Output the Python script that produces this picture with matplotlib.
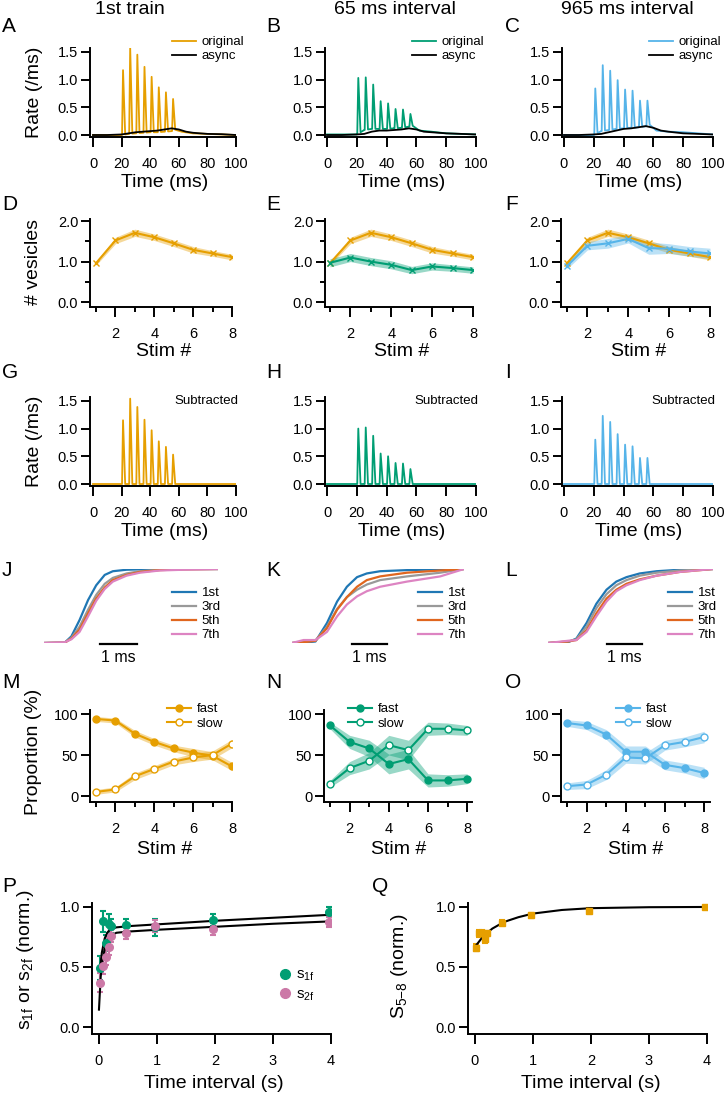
import numpy as np
import matplotlib
matplotlib.use("Agg")
import matplotlib.pyplot as plt
from matplotlib.lines import Line2D

W, H = 725, 1097
plt.rcParams['font.family'] = ['Liberation Sans', 'DejaVu Sans']
plt.rcParams['mathtext.fontset'] = 'custom'
plt.rcParams['mathtext.rm'] = 'Liberation Sans'
plt.rcParams['mathtext.it'] = 'Liberation Sans:italic'

YELLOW = '#e69f00'
GREEN = '#009e73'
SKY = '#56b4e9'
PINK = '#cc79a7'
CUM_COLORS = ['#1f77b4', '#999999', '#e0661e', '#dd84c2']

# ---------------- data ----------------
# A-C / G-I : release rate traces (ms)
stim_times = [21, 26, 31, 36, 41, 46, 51, 56]
peaks_first = [1.17, 1.58, 1.45, 1.23, 1.05, 0.86, 0.77, 0.65]
peaks_65 = [1.03, 1.04, 0.91, 0.61, 0.57, 0.47, 0.46, 0.38]
peaks_965 = [0.84, 1.26, 1.16, 0.99, 0.82, 0.80, 0.62, 0.62]

floor_t = [0, 20, 25, 30, 35, 40, 45, 50, 55, 58, 62, 70, 80, 90, 100]
floor_first = [0, 0, 0.02, 0.03, 0.04, 0.05, 0.05, 0.06, 0.07, 0.10, 0.06, 0.03, 0.02, 0.01, 0]
floor_65 = [0.01, 0.01, 0.09, 0.11, 0.11, 0.11, 0.12, 0.13, 0.15, 0.17, 0.08, 0.06, 0.03, 0.02, 0.01]
floor_965 = [0, 0, 0.07, 0.09, 0.11, 0.12, 0.13, 0.14, 0.16, 0.19, 0.08, 0.06, 0.05, 0.03, 0.01]

async_t = [0, 10, 20, 25, 30, 35, 40, 45, 50, 55, 60, 65, 70, 80, 90, 100]
async_first = [0, 0, 0.01, 0.03, 0.05, 0.06, 0.07, 0.08, 0.10, 0.12, 0.10, 0.06, 0.04, 0.02, 0.015, 0]
async_65 = [0, 0, 0.01, 0.02, 0.06, 0.08, 0.08, 0.09, 0.10, 0.12, 0.10, 0.06, 0.05, 0.03, 0.02, 0.01]
async_965 = [0, 0, 0.01, 0.02, 0.05, 0.08, 0.11, 0.12, 0.14, 0.16, 0.13, 0.08, 0.06, 0.03, 0.02, 0.01]

sub_floor = [0] * len(floor_t)
sub_first = [1.15, 1.54, 1.39, 1.16, 0.97, 0.77, 0.67, 0.53]
sub_65 = [1.00, 1.02, 0.87, 0.55, 0.50, 0.38, 0.37, 0.27]
sub_965 = [0.80, 1.23, 1.12, 0.90, 0.71, 0.68, 0.47, 0.47]

# D-F : number of vesicles per stimulus
stim_n = [1, 2, 3, 4, 5, 6, 7, 8]
ves_first = [0.96, 1.52, 1.71, 1.60, 1.45, 1.29, 1.20, 1.11]
ves_first_err = [0.05, 0.08, 0.09, 0.08, 0.08, 0.08, 0.07, 0.07]
ves_65 = [0.97, 1.10, 1.00, 0.92, 0.79, 0.88, 0.84, 0.79]
ves_65_err = [0.10, 0.10, 0.10, 0.10, 0.09, 0.09, 0.08, 0.08]
ves_965 = [0.89, 1.39, 1.45, 1.56, 1.33, 1.32, 1.25, 1.20]
ves_965_err = [0.07, 0.10, 0.12, 0.10, 0.15, 0.12, 0.12, 0.13]

# J-L : normalized cumulative release (ms)
cum_labels = ['1st', '3rd', '5th', '7th']
cumJ_t = [0, 0.56, 0.74, 0.96, 1.19, 1.41, 1.64, 1.86, 2.23, 2.59, 3.13, 3.76, 4.70]
cumJ = [
    [0, 0.005, 0.09, 0.31, 0.58, 0.78, 0.92, 0.97, 0.99, 0.995, 1.0, 1.0, 1.0],
    [0, 0.005, 0.07, 0.22, 0.45, 0.65, 0.80, 0.88, 0.94, 0.97, 0.99, 1.0, 1.0],
    [0, 0.005, 0.06, 0.18, 0.40, 0.60, 0.75, 0.85, 0.92, 0.96, 0.985, 0.995, 1.0],
    [0, 0.01, 0.05, 0.15, 0.36, 0.57, 0.73, 0.83, 0.91, 0.95, 0.98, 0.99, 1.0],
]
cumK_t = [0, 0.33, 0.67, 1.0, 1.29, 1.57, 1.86, 2.14, 2.52, 3.29, 4.24, 4.92]
cumK = [
    [0, 0.005, 0.02, 0.27, 0.56, 0.76, 0.89, 0.94, 0.97, 0.985, 0.995, 1.0],
    [0, 0.02, 0.03, 0.22, 0.46, 0.62, 0.72, 0.79, 0.85, 0.90, 0.95, 1.0],
    [0, 0.01, 0.03, 0.20, 0.45, 0.62, 0.76, 0.85, 0.90, 0.95, 0.98, 1.0],
    [0, 0.04, 0.04, 0.15, 0.36, 0.52, 0.63, 0.70, 0.76, 0.83, 0.90, 1.0],
]
cumL_t = [0, 0.57, 0.81, 1.10, 1.38, 1.67, 1.95, 2.24, 2.62, 3.10, 3.76, 4.71]
cumL = [
    [0, 0.01, 0.06, 0.27, 0.53, 0.72, 0.83, 0.89, 0.94, 0.97, 0.99, 1.0],
    [0, 0.02, 0.05, 0.22, 0.47, 0.66, 0.78, 0.85, 0.91, 0.95, 0.98, 1.0],
    [0, 0.02, 0.04, 0.17, 0.40, 0.60, 0.72, 0.80, 0.86, 0.91, 0.96, 1.0],
    [0, 0.03, 0.04, 0.15, 0.36, 0.56, 0.70, 0.78, 0.85, 0.91, 0.96, 1.0],
]

# M-O : proportion of fast / slow (%)
fast_first = [94, 92, 76, 66, 58, 53, 49, 36]
slow_first = [5, 8, 24, 33, 42, 47, 50, 64]
prop_first_err = [3, 3, 4, 4, 4, 5, 5, 5]
fast_65 = [86, 66, 58, 39, 45, 19, 19, 21]
slow_65 = [15, 34, 43, 62, 56, 82, 82, 80]
prop_65_err = [4, 8, 10, 12, 12, 8, 7, 6]
fast_965 = [89, 86, 75, 54, 54, 38, 34, 28]
slow_965 = [12, 14, 26, 47, 46, 62, 66, 72]
prop_965_err = [4, 5, 6, 7, 7, 6, 6, 7]

# P-Q : recovery vs time interval (s)
intervals = [0.015, 0.065, 0.115, 0.165, 0.215, 0.465, 0.965, 1.965, 3.965]
s1f = [0.49, 0.88, 0.70, 0.86, 0.84, 0.85, 0.83, 0.89, 0.96]
s1f_err = [0.10, 0.09, 0.07, 0.08, 0.06, 0.05, 0.07, 0.05, 0.04]
s2f = [0.37, 0.51, 0.58, 0.67, 0.76, 0.78, 0.84, 0.82, 0.875]
s2f_err = [0.08, 0.07, 0.06, 0.07, 0.05, 0.05, 0.05, 0.05, 0.04]
fit1_t = [0.02, 0.05, 0.10, 0.15, 0.20, 0.30, 0.50, 1.0, 2.0, 3.0, 4.0]
fit1 = [0.48, 0.62, 0.74, 0.79, 0.815, 0.83, 0.84, 0.855, 0.885, 0.91, 0.935]
fit2_t = [0.0, 0.03, 0.06, 0.10, 0.15, 0.20, 0.30, 0.50, 1.0, 2.0, 3.0, 4.0]
fit2 = [0.145, 0.42, 0.55, 0.65, 0.72, 0.76, 0.785, 0.795, 0.81, 0.835, 0.86, 0.88]
s58 = [0.66, 0.78, 0.78, 0.73, 0.78, 0.87, 0.93, 0.97, 1.0]
s58_err = [0.03, 0.03, 0.03, 0.03, 0.02, 0.02, 0.02, 0.02, 0.01]
fitQ_t = [0.02, 0.1, 0.2, 0.3, 0.5, 0.75, 1.0, 1.5, 2.0, 3.0, 4.0]
fitQ = [0.68, 0.73, 0.78, 0.82, 0.875, 0.915, 0.945, 0.975, 0.99, 0.998, 1.0]


# ---------------- helpers ----------------
fig = plt.figure(figsize=(W / 100, H / 100), dpi=100)


def add_ax(l, t, r, b):
    return fig.add_axes([l / W, 1 - b / H, (r - l) / W, (b - t) / H])


def px2ax(ax, x, y):
    p = ax.get_position()
    return ((x / W - p.x0) / p.width, ((1 - y / H) - p.y0) / p.height)


def style(ax):
    ax.spines['top'].set_visible(False)
    ax.spines['right'].set_visible(False)
    for s in ['left', 'bottom']:
        ax.spines[s].set_linewidth(1.4)
    ax.tick_params(direction='out', width=1.4, labelsize=10.5)
    ax.tick_params(axis='x', which='major', length=7.5, pad=7)
    ax.tick_params(axis='y', which='major', length=6.5, pad=2)
    ax.tick_params(which='minor', length=3.5, width=1.4)


def xlabel(ax, text, x, y):
    ax.set_xlabel(text, fontsize=14, va='center', ha='center')
    ax.xaxis.set_label_coords(*px2ax(ax, x, y))


def ylabel(ax, text, x, y):
    ax.set_ylabel(text, fontsize=14, va='center', ha='center')
    ax.yaxis.set_label_coords(*px2ax(ax, x, y))


def letter(s, x, y):
    fig.text(x / W, 1 - y / H, s, fontsize=15, ha='left', va='center')


def spike_trace(ft, fv, peaks):
    pts = [(a, b) for a, b in zip(ft, fv)
           if not any(s - 1 < a < s + 2.5 for s in stim_times)]
    for s, h in zip(stim_times, peaks):
        pts.append((s - 0.7, float(np.interp(s - 0.7, ft, fv))))
        pts.append((s, h))
        pts.append((s + 1.5, float(np.interp(s + 1.5, ft, fv))))
    pts.sort()
    return [p[0] for p in pts], [p[1] for p in pts]


cols = [(90, 236, 93, 'A', 'D', 'G', 'J', 'M', 2),
        (325, 476, 327, 'B', 'E', 'H', 'K', 'N', 266),
        (562, 713, 564, 'C', 'F', 'I', 'L', 'O', 505)]
titles = ['1st train', '65 ms interval', '965 ms interval']
title_x = [130, 395, 627]
trace_colors = [YELLOW, GREEN, SKY]
peaks_all = [peaks_first, peaks_65, peaks_965]
floors_all = [floor_first, floor_65, floor_965]
async_all = [async_first, async_65, async_965]
sub_all = [sub_first, sub_65, sub_965]

# ---------------- rows 1 and 3 ----------------
for i, (l, r, x0, la, ld, lg, lj, lm, lx) in enumerate(cols):
    fig.text(title_x[i] / W, 1 - 10 / H, titles[i], fontsize=14, ha='center', va='center')
    pxms = (r - x0) / 100.0
    xlo = -(x0 - l) / pxms
    for row, (top, bot) in enumerate([(48, 137), (397, 486)]):
        ax = add_ax(l, top, r, bot)
        style(ax)
        ax.set_xlim(xlo, 100)
        ax.set_ylim(-0.036, 1.57)
        ax.set_xticks([0, 20, 40, 60, 80, 100])
        ax.set_yticks([0, 0.5, 1.0, 1.5])
        ax.set_yticklabels(['0.0', '0.5', '1.0', '1.5'])
        xc = (x0 + r) / 2
        if row == 0:
            tx, ty = spike_trace(floor_t, floors_all[i], peaks_all[i])
            ax.plot(tx, ty, color=trace_colors[i], lw=1.3, label='original')
            ax.plot(async_t, async_all[i], color='black', lw=1.3, label='async')
            ax.legend(loc='upper left', bbox_to_anchor=px2ax(ax, l + 82 if i == 0 else r - 64, 36),
                      frameon=False, fontsize=9.5, handlelength=1.8, handletextpad=0.4,
                      labelspacing=0.15, borderpad=0, borderaxespad=0)
            xlabel(ax, 'Time (ms)', xc, 182)
            letter(la, lx, 27)
            if i == 0:
                ylabel(ax, 'Rate (/ms)', 35, 92)
        else:
            tx, ty = spike_trace(floor_t, sub_floor, sub_all[i])
            ax.plot(tx, ty, color=trace_colors[i], lw=1.3)
            ax.text(*px2ax(ax, r + 2, 401), 'Subtracted', transform=ax.transAxes,
                    fontsize=9.5, ha='right', va='center')
            xlabel(ax, 'Time (ms)', xc, 532)
            letter(lg, lx, 373)
            if i == 0:
                ylabel(ax, 'Rate (/ms)', 35, 441)

# ---------------- row 2: vesicles ----------------
row2 = [(90, 232, 96), (325, 473, 330), (561, 710, 567)]
ves_series = [[(ves_first, ves_first_err, YELLOW)],
              [(ves_first, ves_first_err, YELLOW), (ves_65, ves_65_err, GREEN)],
              [(ves_first, ves_first_err, YELLOW), (ves_965, ves_965_err, SKY)]]
for i, (l, r, x1) in enumerate(row2):
    ax = add_ax(l, 219, r, 307)
    style(ax)
    ppu = (r - x1) / 7.0
    ax.set_xlim(1 - (x1 - l) / ppu, 8)
    ax.set_ylim(-0.12, 2.05)
    ax.set_xticks([2, 4, 6, 8])
    ax.set_xticks([1, 3, 5, 7], minor=True)
    ax.set_yticks([0, 1, 2])
    ax.set_yticklabels(['0.0', '1.0', '2.0'])
    ax.set_yticks([0.5, 1.5], minor=True)
    for vals, err, c in ves_series[i]:
        v = np.array(vals)
        e = np.array(err)
        ax.fill_between(stim_n, v - e, v + e, color=c, alpha=0.4, lw=0)
        ax.plot(stim_n, v, color=c, lw=1.5, marker='x', ms=5, mew=1)
    xlabel(ax, 'Stim #', (x1 + r) / 2, 351)
    letter(cols[i][4], cols[i][8], 205)
    if i == 0:
        ylabel(ax, '# vesicles', 33, 262)

# ---------------- row 4: cumulative ----------------
row4 = [(44, 218, cumJ_t, cumJ, 1.51, 172),
        (292, 464, cumK_t, cumK, 1.71, 418),
        (548, 713, cumL_t, cumL, 1.69, 668)]
for i, (l, r, ct, cv, bar0, legx) in enumerate(row4):
    ax = add_ax(l, 569, r, 643)
    ax.axis('off')
    ax.set_xlim(0, ct[-1])
    ax.set_ylim(0, 1)
    for k in range(4):
        ax.plot(ct, cv[k], color=CUM_COLORS[k], lw=1.6, label=cum_labels[k])
    ax.plot([bar0, bar0 + 1], [-0.02, -0.02], color='black', lw=1.6, clip_on=False)
    ax.text(bar0 + 0.5, -0.2, '1 ms', fontsize=11.5, ha='center', va='center')
    ax.legend(loc='upper left', bbox_to_anchor=px2ax(ax, legx, 587), frameon=False,
              fontsize=9.5, handlelength=1.85, handletextpad=0.4, labelspacing=0.14,
              borderpad=0, borderaxespad=0)
    letter(cols[i][6], cols[i][8], 570)

# ---------------- row 5: proportions ----------------
row5 = [(90, 232, 96, 167), (324, 472, 330, 348), (561, 710, 567, 616)]
prop_series = [(fast_first, slow_first, prop_first_err, YELLOW),
               (fast_65, slow_65, prop_65_err, GREEN),
               (fast_965, slow_965, prop_965_err, SKY)]
for i, (l, r, x1, legx) in enumerate(row5):
    ax = add_ax(l, 710, r, 802)
    style(ax)
    x8 = x1 + 7 * 19.6
    ppu = (x8 - x1) / 7.0
    ax.set_xlim(1 - (x1 - l) / ppu, 8 + (r - x8) / ppu)
    ax.set_ylim(-7.3, 104.9)
    ax.set_xticks([2, 4, 6, 8])
    ax.set_xticks([1, 3, 5, 7], minor=True)
    ax.set_yticks([0, 50, 100])
    fast, slow, err, c = prop_series[i]
    for vals, face, lab in [(fast, c, 'fast'), (slow, 'white', 'slow')]:
        v = np.array(vals)
        e = np.array(err)
        ax.fill_between(stim_n, v - e, v + e, color=c, alpha=0.4, lw=0)
        ax.plot(stim_n, v, color=c, lw=1.5, marker='o', ms=5, mfc=face, mew=1, label=lab)
    ax.legend(loc='upper left', bbox_to_anchor=px2ax(ax, legx, 703), frameon=False,
              fontsize=9.5, handlelength=1.8, handletextpad=0.45, labelspacing=0.2,
              borderpad=0, borderaxespad=0)
    xlabel(ax, 'Stim #', (x1 + x8) / 2, 850)
    letter(cols[i][7], cols[i][8], 682)
    if i == 0:
        ylabel(ax, 'Proportion (%)', 33, 752)

# ---------------- row 6: P ----------------
axp = add_ax(92, 903, 331, 1034)
style(axp)
axp.set_xlim(-0.12, 4.0)
axp.set_ylim(-0.058, 1.033)
axp.set_xticks([0, 1, 2, 3, 4])
axp.set_yticks([0, 0.5, 1.0])
axp.set_yticklabels(['0.0', '0.5', '1.0'])
axp.errorbar(intervals, s1f, yerr=s1f_err, fmt='o', color=GREEN, ms=5.5,
             capsize=2.5, elinewidth=1.5, capthick=1.5)
axp.errorbar(intervals, s2f, yerr=s2f_err, fmt='o', color=PINK, ms=5.5,
             capsize=2.5, elinewidth=1.5, capthick=1.5)
axp.plot(fit1_t, fit1, color='black', lw=1.5)
axp.plot(fit2_t, fit2, color='black', lw=1.5)
handles = [Line2D([], [], marker='o', ls='none', color=GREEN, ms=7),
           Line2D([], [], marker='o', ls='none', color=PINK, ms=7)]
axp.legend(handles, ['s$_\\mathregular{1f}$', 's$_\\mathregular{2f}$'], loc='upper left',
           bbox_to_anchor=px2ax(axp, 278, 968), frameon=False, fontsize=11,
           handlelength=0.9, handletextpad=0.3, labelspacing=0.25,
           borderpad=0, borderaxespad=0)
xlabel(axp, 'Time interval (s)', 214, 1083)
ylabel(axp, 's$_\\mathregular{1f}$ or s$_\\mathregular{2f}$ (norm.)', 25, 960)
letter('P', 2, 887)

# ---------------- row 6: Q ----------------
axq = add_ax(468, 903, 707, 1034)
style(axq)
axq.set_xlim(-0.12, 4.0)
axq.set_ylim(-0.058, 1.033)
axq.set_xticks([0, 1, 2, 3, 4])
axq.set_yticks([0, 0.5, 1.0])
axq.set_yticklabels(['0.0', '0.5', '1.0'])
axq.errorbar(intervals, s58, yerr=s58_err, fmt='s', color=YELLOW, ms=5,
             capsize=2, elinewidth=1.5, capthick=1.5)
axq.plot(fitQ_t, fitQ, color='black', lw=1.5)
xlabel(axq, 'Time interval (s)', 591, 1083)
ylabel(axq, 'S$_\\mathregular{5{-}8}$ (norm.)', 400, 966)
letter('Q', 372, 887)

fig.savefig('out.png', dpi=100)
